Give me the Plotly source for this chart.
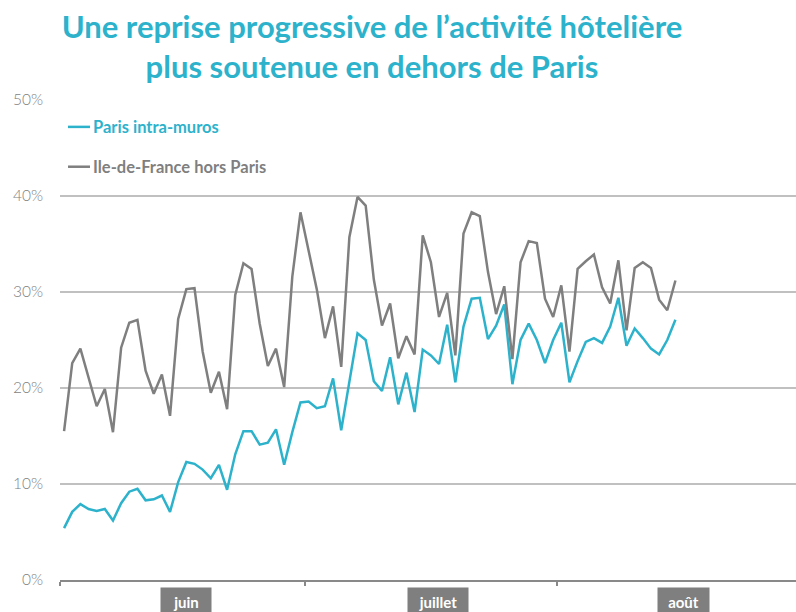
import pandas as pd
import plotly.graph_objects as go

# ---- data ----
dates = pd.date_range("2020-06-01 12:00", periods=76, freq="D")

paris_intra_muros = [
    5.4, 7.1, 7.9, 7.4, 7.2, 7.4, 6.2, 8.0, 9.2, 9.5,
    8.3, 8.4, 8.8, 7.1, 10.2, 12.3, 12.1, 11.5, 10.6, 12.0,
    9.4, 13.1, 15.5, 15.5, 14.1, 14.3, 15.7, 12.0, 15.4, 18.5,
    18.6, 17.9, 18.1, 21.0, 15.6, 20.6, 25.7, 25.0, 20.7, 19.7,
    23.2, 18.3, 21.6, 17.5, 24.0, 23.4, 22.5, 26.6, 20.6, 26.4,
    29.3, 29.4, 25.1, 26.5, 28.7, 20.4, 25.0, 26.7, 25.0, 22.6,
    25.0, 26.8, 20.6, 22.8, 24.8, 25.2, 24.7, 26.4, 29.4, 24.4,
    26.2, 25.2, 24.1, 23.5, 25.0, 27.1,
]

idf_hors_paris = [
    15.5, 22.6, 24.1, 21.2, 18.1, 19.9, 15.4, 24.2, 26.8, 27.1,
    21.8, 19.4, 21.4, 17.1, 27.2, 30.3, 30.4, 23.8, 19.5, 21.7,
    17.8, 29.7, 33.0, 32.4, 26.7, 22.3, 24.1, 20.1, 31.6, 38.3,
    34.3, 30.3, 25.2, 28.5, 22.2, 35.7, 39.9, 39.0, 31.3, 26.5,
    28.8, 23.1, 25.4, 23.5, 35.9, 33.1, 27.4, 29.9, 23.4, 36.1,
    38.3, 37.9, 32.1, 27.7, 30.6, 23.0, 33.1, 35.3, 35.1, 29.3,
    27.4, 30.7, 23.8, 32.4, 33.2, 33.9, 30.5, 28.8, 33.3, 26.0,
    32.5, 33.1, 32.5, 29.2, 28.1, 31.2,
]

series_names = ["Paris intra-muros", "Ile-de-France hors Paris"]
month_labels = ["juin", "juillet", "août"]
month_starts = ["2020-06-01", "2020-07-01", "2020-08-01"]
month_centers = ["2020-06-16 12:00", "2020-07-17 10:00", "2020-08-16 12:00"]
y_ticks = [0, 0.1, 0.2, 0.3, 0.4, 0.5]

title_text = "Une reprise progressive de l’activité hôtelière<br>plus soutenue en dehors de Paris"

# ---- styles ----
TEAL = "#2db2cc"
GRAY = "#7f7f7f"
FONT = "Lato"

fig = go.Figure()
fig.add_trace(go.Scatter(
    x=dates, y=[v / 100 for v in paris_intra_muros], mode="lines",
    name=series_names[0], line=dict(color=TEAL, width=2.5), showlegend=False,
))
fig.add_trace(go.Scatter(
    x=dates, y=[v / 100 for v in idf_hors_paris], mode="lines",
    name=series_names[1], line=dict(color=GRAY, width=2.5), showlegend=False,
))

# manual legend (line sample + label)
legend_y = [0.944, 0.861]
for name, col, ly in zip(series_names, [TEAL, GRAY], legend_y):
    fig.add_shape(type="line", xref="paper", yref="paper",
                  x0=0.0109, x1=0.0408, y0=ly, y1=ly,
                  line=dict(color=col, width=2.5))
    fig.add_annotation(xref="paper", yref="paper", x=0.0425, y=ly,
                       xanchor="left", yanchor="middle", showarrow=False,
                       text=f"<b>{name}</b>",
                       font=dict(family=FONT, size=16.5, color=col))

# month labels in gray boxes
box_widths = [50, 60, 51]
for lab, xc, w in zip(month_labels, month_centers, box_widths):
    fig.add_annotation(x=xc, xref="x", y=0, yref="paper",
                       yanchor="top", yshift=-7, showarrow=False,
                       text=f"<b>{lab}</b>", width=w, height=28,
                       bgcolor="#7f7f7f", borderpad=0,
                       font=dict(family=FONT, size=15, color="white"),
                       valign="middle", align="center")

fig.update_layout(
    width=796, height=612,
    margin=dict(l=60, r=0, t=100, b=32),
    paper_bgcolor="white", plot_bgcolor="white",
    title=dict(text=f"<b>{title_text}</b>", x=372 / 796, xanchor="center",
               xref="container", yref="container", y=1 - 38 / 612, yanchor="top",
               font=dict(family=FONT, size=31, color=TEAL)),
    xaxis=dict(type="date", range=["2020-06-01", "2020-08-30 07:00"],
               tickvals=month_starts, showticklabels=False,
               ticks="outside", ticklen=4, tickcolor="#898989", tickwidth=1.5,
               showline=True, linecolor="#898989", linewidth=1.8,
               showgrid=False, zeroline=False),
    yaxis=dict(range=[0, 0.5], tickvals=y_ticks, tickformat=".0%",
               showgrid=True, gridcolor="#c0c0c0", gridwidth=1.5,
               zeroline=False, showline=False, ticks="",
               ticklabelstandoff=16,
               tickfont=dict(family=FONT, size=15.5, color="#7f7f7f", weight=300)),
)

fig.write_html("out.html", config={"displayModeBar": False},
               post_script="document.body.style.margin='0px';")
